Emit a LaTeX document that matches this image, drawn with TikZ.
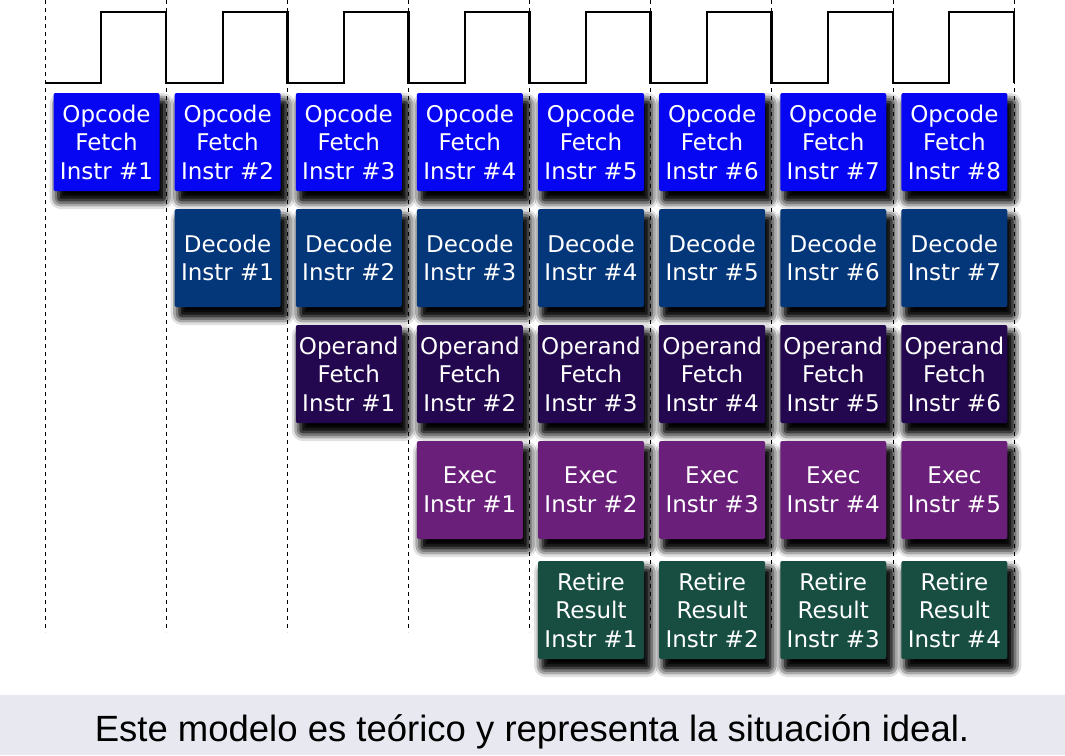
\documentclass[tikz,border=0pt]{standalone}
\usepackage{fontspec}
\setmainfont{DejaVu Sans}
\newfontfamily\captionfont{Liberation Sans}
\usetikzlibrary{positioning,shadows.blur}

\definecolor{fetchblue}{HTML}{0606F2}
\definecolor{decodeblue}{HTML}{04367A}
\definecolor{operandpurple}{HTML}{24084F}
\definecolor{execpurple}{HTML}{6A207A}
\definecolor{retiregreen}{HTML}{184E42}
\definecolor{captionbg}{HTML}{E8E8F0}
\definecolor{halogray}{HTML}{8A8A98}

\tikzset{
  stage/.style={rectangle,rounded corners=2pt,minimum width=106pt,minimum height=98pt,
    inner sep=0pt,align=center,text=white,font=\fontsize{23}{28.5}\selectfont,
    blur shadow={shadow xshift=0pt,shadow yshift=0pt,shadow scale=1.1,shadow blur radius=10pt,
      shadow opacity=55,fill=halogray},
    blur shadow={shadow xshift=5pt,shadow yshift=-9pt,shadow blur radius=9pt,
      shadow opacity=100,fill=black}},
  fetch/.style={stage,fill=fetchblue},
  decode/.style={stage,fill=decodeblue},
  operand/.style={stage,fill=operandpurple},
  exec/.style={stage,fill=execpurple},
  retire/.style={stage,fill=retiregreen},
  tick/.style={line width=0.9pt,dash pattern=on 4pt off 4pt},
  clock/.style={line width=2.6pt,line join=miter}
}

\begin{document}
\begin{tikzpicture}[x=1pt,y=-1pt,node distance=116pt and 121.125pt,on grid]
  \useasboundingbox (0,0) rectangle (1065,755);
  % cycle boundaries
  \draw[tick] (45,0) -- (45,632) (166,0) -- (166,632) (287.5,0) -- (287.5,632)
    (408.5,0) -- (408.5,632) (529.5,0) -- (529.5,632) (650.5,0) -- (650.5,632)
    (771.5,0) -- (771.5,632) (893,0) -- (893,632) (1014,0) -- (1014,632);
  % clock
  \draw[clock] (45,83) -- (101,83) -- (101,12) -- (166,12) -- (166,83)
    -- (223,83) -- (223,12) -- (287.5,12) -- (287.5,83)
    -- (344,83) -- (344,12) -- (408.5,12) -- (408.5,83)
    -- (465,83) -- (465,12) -- (529.5,12) -- (529.5,83)
    -- (586,83) -- (586,12) -- (650.5,12) -- (650.5,83)
    -- (707,83) -- (707,12) -- (771.5,12) -- (771.5,83)
    -- (828,83) -- (828,12) -- (893,12) -- (893,83)
    -- (949,83) -- (949,12) -- (1014,12) -- (1014,83);

  % opcode fetch
  \node[fetch] (f_1) at (106.5,142) {Opcode\\Fetch\\Instr \#1};
  \node[fetch] (f_2) [right=of f_1] {Opcode\\Fetch\\Instr \#2};
  \node[fetch] (f_3) [right=of f_2] {Opcode\\Fetch\\Instr \#3};
  \node[fetch] (f_4) [right=of f_3] {Opcode\\Fetch\\Instr \#4};
  \node[fetch] (f_5) [right=of f_4] {Opcode\\Fetch\\Instr \#5};
  \node[fetch] (f_6) [right=of f_5] {Opcode\\Fetch\\Instr \#6};
  \node[fetch] (f_7) [right=of f_6] {Opcode\\Fetch\\Instr \#7};
  \node[fetch] (f_8) [right=of f_7] {Opcode\\Fetch\\Instr \#8};

  % decode
  \node[decode] (d_1) [below=of f_2] {Decode\\Instr \#1};
  \node[decode] (d_2) [right=of d_1] {Decode\\Instr \#2};
  \node[decode] (d_3) [right=of d_2] {Decode\\Instr \#3};
  \node[decode] (d_4) [right=of d_3] {Decode\\Instr \#4};
  \node[decode] (d_5) [right=of d_4] {Decode\\Instr \#5};
  \node[decode] (d_6) [right=of d_5] {Decode\\Instr \#6};
  \node[decode] (d_7) [right=of d_6] {Decode\\Instr \#7};

  % operand fetch
  \node[operand] (o_1) [below=of d_2] {Operand\\Fetch\\Instr \#1};
  \node[operand] (o_2) [right=of o_1] {Operand\\Fetch\\Instr \#2};
  \node[operand] (o_3) [right=of o_2] {Operand\\Fetch\\Instr \#3};
  \node[operand] (o_4) [right=of o_3] {Operand\\Fetch\\Instr \#4};
  \node[operand] (o_5) [right=of o_4] {Operand\\Fetch\\Instr \#5};
  \node[operand] (o_6) [right=of o_5] {Operand\\Fetch\\Instr \#6};

  % execute
  \node[exec] (e_1) [below=of o_2] {Exec\\Instr \#1};
  \node[exec] (e_2) [right=of e_1] {Exec\\Instr \#2};
  \node[exec] (e_3) [right=of e_2] {Exec\\Instr \#3};
  \node[exec] (e_4) [right=of e_3] {Exec\\Instr \#4};
  \node[exec] (e_5) [right=of e_4] {Exec\\Instr \#5};

  % retire
  \node[retire] (r_1) [below=120pt of e_2] {Retire\\Result\\Instr \#1};
  \node[retire] (r_2) [right=of r_1] {Retire\\Result\\Instr \#2};
  \node[retire] (r_3) [right=of r_2] {Retire\\Result\\Instr \#3};
  \node[retire] (r_4) [right=of r_3] {Retire\\Result\\Instr \#4};

  % caption
  \fill[captionbg] (0,695) rectangle (1065,755);
  \node[anchor=base,font=\captionfont\fontsize{36.5}{40}\selectfont] (note) at (532,741)
    {Este modelo es teórico y representa la situación ideal.};
\end{tikzpicture}
\end{document}
